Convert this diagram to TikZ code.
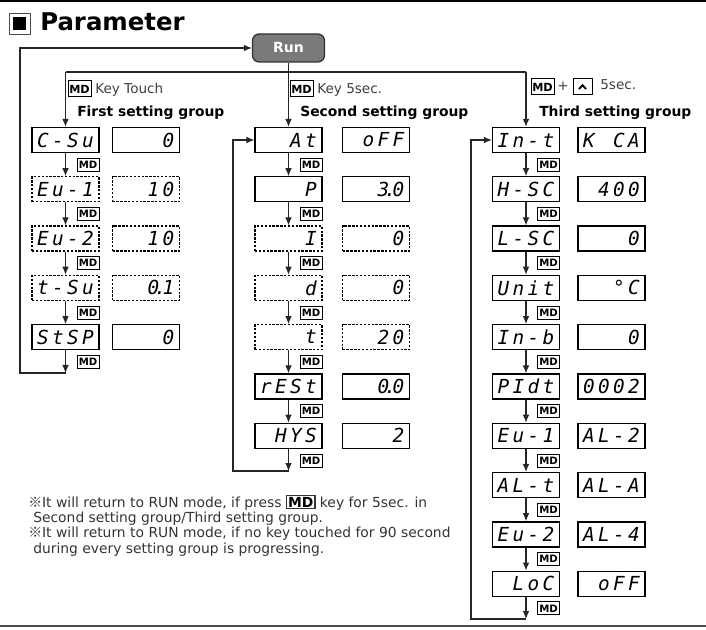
\documentclass[tikz,border=0pt]{standalone}
\usepackage{fontspec}
\setmainfont{DejaVu Sans}
\newfontfamily\segfont{DejaVu Sans Mono}
\newfontfamily\cjkmark{Noto Sans CJK SC}
\usetikzlibrary{arrows.meta}
\newcommand\segc[1]{\makebox[11.25pt][c]{#1}}
\newcommand\seg[4]{{\segfont\itshape\fontsize{14.5}{15}\selectfont\segc{#1}\segc{#2}\segc{#3}\segc{#4}}}
\newcommand\dotd[1]{#1\rlap{\kern-3.6pt.}}
\begin{document}
\begin{tikzpicture}[x=0.75pt,y=-0.75pt,
  pbox/.style={draw=black, line width=1pt, minimum width=50.25pt, minimum height=18.75pt, inner sep=0pt, fill=white},
  dbox/.style={pbox, dash pattern=on 1.8pt off 1.1pt},
  mdk/.style={draw=black, line width=0.6pt, minimum width=16.5pt, minimum height=9.75pt, inner sep=0pt, fill=white, font=\bfseries\fontsize{7.6}{8}\selectfont},
  mdbig/.style={draw=black, line width=0.75pt, minimum width=17.25pt, minimum height=12pt, inner sep=0pt, font=\bfseries\fontsize{8.4}{9}\selectfont},
  flow/.style={draw=black!85, line width=0.8pt},
  arr/.style={flow, -{Latex[length=6pt,width=5pt]}},
  keytxt/.style={text=black!75, font=\fontsize{10.2}{12}\selectfont, inner sep=0pt, anchor=base west},
  grp/.style={font=\bfseries\fontsize{10.4}{12}\selectfont, inner sep=0pt, anchor=base west},
]
\useasboundingbox (0,0) rectangle (706,630);
% frame lines
\draw[line width=1.5pt, black] (0,1) -- (706,1);
\draw[line width=1.1pt, black!70] (0,626) -- (706,626);
% title
\node[draw=black!70, line width=0.6pt, minimum size=15.75pt, inner sep=0pt] (tsq) at (19.5,23.5) {};
\node[fill=black, minimum size=9.75pt, inner sep=0pt] (tsqi) at (tsq.center) {};
\node[font=\bfseries\fontsize{18.3}{20}\selectfont, inner sep=0pt, anchor=base west] (title) at (40,31) {Parameter};
% Run
\node[draw=black!80, line width=1pt, fill=black!52, rounded corners=5pt, minimum width=54pt, minimum height=21pt, inner sep=0pt, text=white, font=\bfseries\fontsize{10.5}{12}\selectfont] (run) at (288.5,48) {Run};
% headers
\node[mdbig] (hk1) at (79.5,89) {MD};
\node[keytxt] (hk1t) at (95,94) {Key Touch};
\node[grp] (g1) at (77,117) {First setting group};
\node[mdbig] (hk2) at (301.5,89) {MD};
\node[keytxt] (hk2t) at (317,94) {Key 5sec.};
\node[grp] (g2) at (300,117) {Second setting group};
\node[mdbig] (hk3) at (542.5,87) {MD};
\node[keytxt, anchor=center] (plus) at (563,86.5) {+};
\node[draw=black, line width=0.75pt, minimum width=14.25pt, minimum height=12pt, inner sep=0pt] (upk) at (582.5,87) {};
\draw[line width=1.4pt] ([shift={(-3.5,2)}]upk.center) -- ([shift={(0,-1.8)}]upk.center) -- ([shift={(3.5,2)}]upk.center);
\node[keytxt] (hk3t) at (600,90) {5sec.};
\node[grp] (g3) at (539,117) {Third setting group};
% column 1
\node[pbox] (a0) at (65.5,140) {\seg{C}{-}{S}{u}};
\node[pbox] (av0) at (146,140) {\seg{}{}{}{0}};
\node[dbox] (a1) at (65.5,189.3) {\seg{E}{u}{-}{1}};
\node[dbox] (av1) at (146,189.3) {\seg{}{}{1}{0}};
\node[dbox] (a2) at (65.5,238.6) {\seg{E}{u}{-}{2}};
\node[dbox] (av2) at (146,238.6) {\seg{}{}{1}{0}};
\node[dbox] (a3) at (65.5,287.9) {\seg{t}{-}{S}{u}};
\node[dbox] (av3) at (146,287.9) {\seg{}{}{\dotd{0}}{1}};
\node[pbox] (a4) at (65.5,337.2) {\seg{S}{t}{S}{P}};
\node[pbox] (av4) at (146,337.2) {\seg{}{}{}{0}};
% column 2
\node[pbox] (b0) at (288.5,140) {\seg{}{}{A}{t}};
\node[pbox] (bv0) at (376,140) {\seg{}{o}{F}{F}};
\node[pbox] (b1) at (288.5,189.3) {\seg{}{}{}{P}};
\node[pbox] (bv1) at (376,189.3) {\seg{}{}{\dotd{3}}{0}};
\node[dbox] (b2) at (288.5,238.6) {\seg{}{}{}{I}};
\node[dbox] (bv2) at (376,238.6) {\seg{}{}{}{0}};
\node[dbox] (b3) at (288.5,287.9) {\seg{}{}{}{d}};
\node[dbox] (bv3) at (376,287.9) {\seg{}{}{}{0}};
\node[dbox] (b4) at (288.5,337.2) {\seg{}{}{}{t}};
\node[dbox] (bv4) at (376,337.2) {\seg{}{}{2}{0}};
\node[pbox] (b5) at (288.5,386.5) {\seg{r}{E}{S}{t}};
\node[pbox] (bv5) at (376,386.5) {\seg{}{}{\dotd{0}}{0}};
\node[pbox] (b6) at (288.5,435.8) {\seg{}{H}{Y}{S}};
\node[pbox] (bv6) at (376,435.8) {\seg{}{}{}{2}};
% column 3
\node[pbox] (c0) at (526,140) {\seg{I}{n}{-}{t}};
\node[pbox] (cv0) at (611.5,140) {\seg{K}{}{C}{A}};
\node[pbox] (c1) at (526,189.3) {\seg{H}{-}{S}{C}};
\node[pbox] (cv1) at (611.5,189.3) {\seg{}{4}{0}{0}};
\node[pbox] (c2) at (526,238.6) {\seg{L}{-}{S}{C}};
\node[pbox] (cv2) at (611.5,238.6) {\seg{}{}{}{0}};
\node[pbox] (c3) at (526,287.9) {\seg{U}{n}{i}{t}};
\node[pbox] (cv3) at (611.5,287.9) {\seg{}{}{°}{C}};
\node[pbox] (c4) at (526,337.2) {\seg{I}{n}{-}{b}};
\node[pbox] (cv4) at (611.5,337.2) {\seg{}{}{}{0}};
\node[pbox] (c5) at (526,386.5) {\seg{P}{I}{d}{t}};
\node[pbox] (cv5) at (611.5,386.5) {\seg{0}{0}{0}{2}};
\node[pbox] (c6) at (526,435.8) {\seg{E}{u}{-}{1}};
\node[pbox] (cv6) at (611.5,435.8) {\seg{A}{L}{-}{2}};
\node[pbox] (c7) at (526,485.1) {\seg{A}{L}{-}{t}};
\node[pbox] (cv7) at (611.5,485.1) {\seg{A}{L}{-}{A}};
\node[pbox] (c8) at (526,534.4) {\seg{E}{u}{-}{2}};
\node[pbox] (cv8) at (611.5,534.4) {\seg{A}{L}{-}{4}};
\node[pbox] (c9) at (526,583.7) {\seg{}{L}{o}{C}};
\node[pbox] (cv9) at (611.5,583.7) {\seg{}{o}{F}{F}};
% arrows within columns and MD labels
\foreach \i [evaluate=\i as \j using int(\i+1)] in {0,...,3} {
  \draw[arr] (a\i.south) -- (a\j.north);
}
\foreach \i [evaluate=\i as \j using int(\i+1)] in {0,...,5} {
  \draw[arr] (b\i.south) -- (b\j.north);
}
\foreach \i [evaluate=\i as \j using int(\i+1)] in {0,...,8} {
  \draw[arr] (c\i.south) -- (c\j.north);
}
\foreach \i in {0,...,4} { \node[mdk] (ma\i) at (88,{164.65+49.3*\i}) {MD}; }
\foreach \i in {0,...,6} { \node[mdk] (mb\i) at (311,{164.65+49.3*\i}) {MD}; }
\foreach \i in {0,...,9} { \node[mdk] (mc\i) at (548.5,{164.65+49.3*\i}) {MD}; }
% loops
\coordinate (aend) at (65.5,373);
\coordinate (la1) at (20,373);
\coordinate (la2) at (20,48);
\draw[arr] (a4.south) -- (aend);
\draw[arr] (aend) -- (la1) -- (la2) -- (run.west);
\coordinate (bend) at (288.5,471);
\coordinate (lb1) at (233,471);
\coordinate (lb2) at (233,140);
\draw[arr] (b6.south) -- (bend);
\draw[arr] (bend) -- (lb1) -- (lb2) -- (b0.west);
\coordinate (cend) at (526,619);
\coordinate (lc1) at (471,619);
\coordinate (lc2) at (471,140);
\draw[arr] (c9.south) -- (cend);
\draw[arr] (cend) -- (lc1) -- (lc2) -- (c0.west);
% top distribution
\coordinate (tl) at (65.5,72);
\coordinate (tr) at (526,72);
\draw[arr] (run.south) -- (b0.north);
\draw[flow] (tl) -- (tr);
\draw[arr] (tl) -- (a0.north);
\draw[arr] (tr) -- (c0.north);
% notes
\node[anchor=base west, inner sep=0pt, align=left, text=black!80, font=\fontsize{10.4}{11.5}\selectfont] (notes) at (28,553) {%
\lineskiplimit=-20pt\setlength\fboxsep{0.8pt}\setlength\fboxrule{0.8pt}%
{\cjkmark ※}It will return to RUN mode, if press \fbox{\textcolor{black}{\bfseries MD}} key for 5sec. in\\
\hspace*{3.75pt}Second setting group/Third setting group.\\
{\cjkmark ※}It will return to RUN mode, if no key touched for 90 second\\
\hspace*{3.75pt}during every setting group is progressing.};
\end{tikzpicture}
\end{document}
